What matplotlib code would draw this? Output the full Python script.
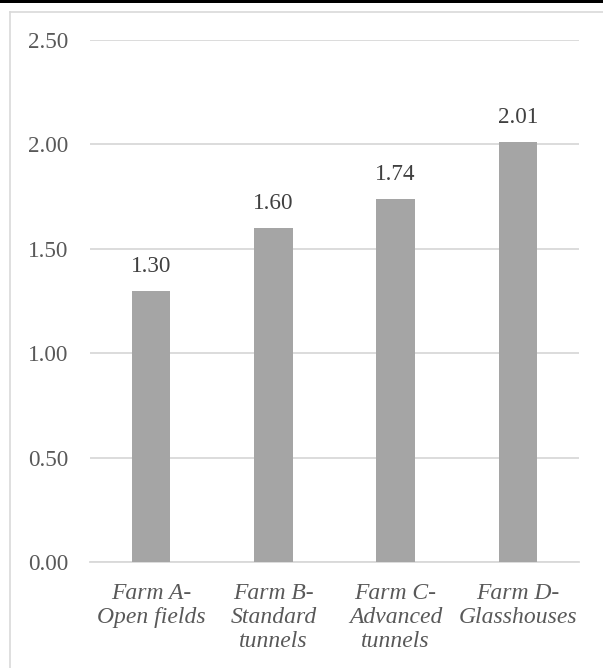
import matplotlib
matplotlib.use("Agg")
import matplotlib.pyplot as plt
from matplotlib.patches import Rectangle
from matplotlib.lines import Line2D

categories = ["Farm A-\nOpen fields", "Farm B-\nStandard\ntunnels",
              "Farm C-\nAdvanced\ntunnels", "Farm D-\nGlasshouses"]
values = [1.30, 1.60, 1.74, 2.01]
yticks = [0.0, 0.5, 1.0, 1.5, 2.0, 2.5]

W, H = 603, 668
fig = plt.figure(figsize=(W / 100, H / 100), dpi=100)
plt.rcParams['font.family'] = ['Liberation Serif', 'DejaVu Serif']

ax = fig.add_axes([90 / W, 1 - 562 / H, (579 - 90) / W, (562 - 40) / H])
x = list(range(len(categories)))
bars = ax.bar(x, values, width=0.315, color="#A5A5A5", zorder=3)
ax.set_xlim(-0.5, len(categories) - 0.5)
ax.set_ylim(0, 2.5)
ax.set_yticks(yticks)
ax.set_yticklabels([f"{v:.2f}" for v in yticks], fontsize=16.7)
ax.set_xticks(x)
ax.set_xticklabels(categories, fontstyle="italic", linespacing=1.2, fontsize=17)
ax.yaxis.grid(True, color="#D9D9D9", linewidth=1.3, zorder=0)
for s in ["top", "right", "left"]:
    ax.spines[s].set_visible(False)
ax.spines["bottom"].set_color("#D9D9D9")
ax.spines["bottom"].set_linewidth(1.3)
ax.tick_params(axis="both", length=0, colors="#595959")
ax.tick_params(axis="y", pad=15.5)
ax.tick_params(axis="x", pad=15)

for xi, v in zip(x, values):
    ax.annotate(f"{v:.2f}", (xi, v), xytext=(0, 10), textcoords="offset points",
                ha="center", va="bottom", fontsize=16.7, color="#404040")

# decorative frame
fig.patches.append(Rectangle((0, 1 - 3 / H), 1, 3 / H, transform=fig.transFigure,
                             facecolor="black", edgecolor="none"))
fig.lines.append(Line2D([10 / W, 10 / W], [1 - 12 / H, 0], transform=fig.transFigure,
                        color="#D9D9D9", linewidth=1.2))
fig.lines.append(Line2D([10 / W, 1], [1 - 12 / H, 1 - 12 / H], transform=fig.transFigure,
                        color="#D9D9D9", linewidth=1.2))

fig.savefig("out.png", dpi=100)
